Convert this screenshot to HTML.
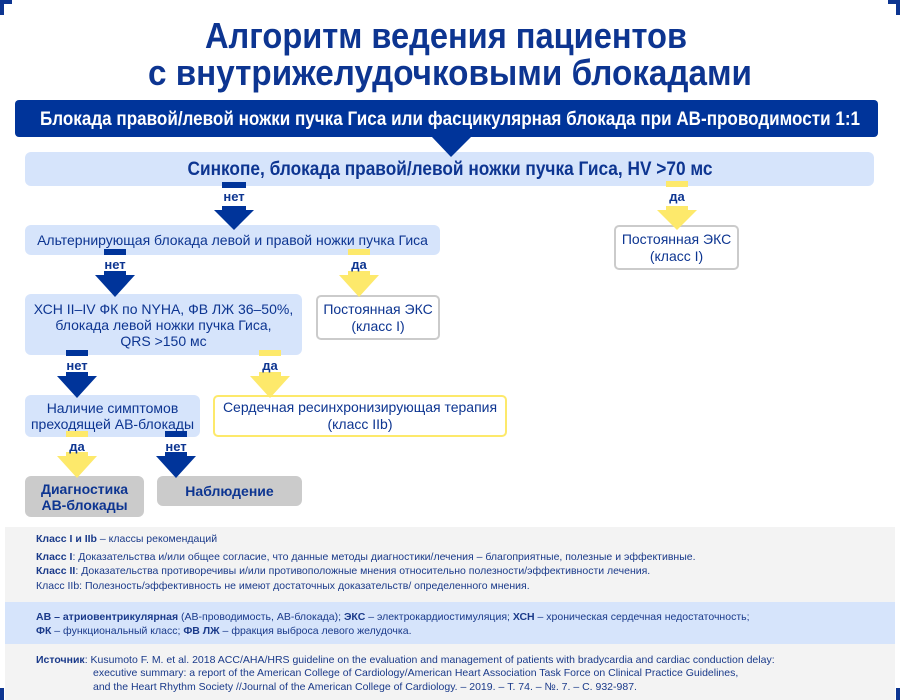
<!DOCTYPE html>
<html><head><meta charset="utf-8"><style>
body{margin:0;width:900px;height:700px;position:relative;background:#fff;overflow:hidden;font-family:"Liberation Sans",sans-serif;color:#0d3591}
.a{position:absolute;box-sizing:border-box;display:flex;align-items:center;justify-content:center;text-align:center}
.lb{background:#d6e4fb;border-radius:6px}
.lbl{position:absolute;font-size:13px;font-weight:bold;color:#0d3591;width:40px;text-align:center}
.leg{position:absolute;left:36px;font-size:10.5px;color:#1a3a8a;white-space:nowrap}
</style></head><body>
<svg width="900" height="700" style="position:absolute;left:0;top:0">
<path d="M0 15V0H12V4H4V15Z" fill="#0d3591"/>
<path d="M900 15V0H888V4H896V15Z" fill="#0d3591"/>
</svg>
<div class="a" style="left:15px;top:100px;width:863px;height:37px;background:#00349a;border-radius:4px"></div>
<div class="a lb" style="left:25px;top:152px;width:849px;height:34px"></div>
<div class="a lb" style="left:25px;top:225px;width:415px;height:30px;font-size:14px">Альтернирующая блокада левой и правой ножки пучка Гиса</div>
<div class="a" style="left:614px;top:225px;width:125px;height:45px;border:2px solid #cbcbcb;border-radius:5px;font-size:14px;line-height:17px">Постоянная ЭКС<br>(класс I)</div>
<div class="a lb" style="left:25px;top:294px;width:277px;height:61px;font-size:14px;line-height:16px">ХСН II–IV ФК по NYHA, ФВ ЛЖ 36–50%,<br>блокада левой ножки пучка Гиса,<br>QRS &gt;150 мс</div>
<div class="a" style="left:316px;top:295px;width:124px;height:45px;border:2px solid #cbcbcb;border-radius:5px;font-size:14px;line-height:17px">Постоянная ЭКС<br>(класс I)</div>
<div class="a lb" style="left:25px;top:395px;width:175px;height:42px;font-size:14px;line-height:16px">Наличие симптомов<br>преходящей АВ-блокады</div>
<div class="a" style="left:213px;top:395px;width:294px;height:42px;border:2px solid #fde96b;border-radius:5px;font-size:14px;line-height:17px">Сердечная ресинхронизирующая терапия<br>(класс IIb)</div>
<div class="a" style="left:25px;top:476px;width:119px;height:41px;background:#cbcbcb;border-radius:6px;font-size:14px;line-height:16px;font-weight:bold">Диагностика<br>АВ-блокады</div>
<div class="a" style="left:157px;top:476px;width:145px;height:30px;background:#cbcbcb;border-radius:6px;font-size:14px;font-weight:bold">Наблюдение</div>
<svg width="900" height="700" style="position:absolute;left:0;top:0" font-family="Liberation Sans, sans-serif" font-weight="bold">
<text x="446" y="48" font-size="36" fill="#0d3591" text-anchor="middle" textLength="482" lengthAdjust="spacingAndGlyphs">Алгоритм ведения пациентов</text>
<text x="450" y="85" font-size="36" fill="#0d3591" text-anchor="middle" textLength="604" lengthAdjust="spacingAndGlyphs">с внутрижелудочковыми блокадами</text>
<text x="450" y="125" font-size="19" fill="#fff" text-anchor="middle" textLength="820" lengthAdjust="spacingAndGlyphs">Блокада правой/левой ножки пучка Гиса или фасцикулярная блокада при АВ-проводимости 1:1</text>
<text x="450" y="175" font-size="19" fill="#0d3591" text-anchor="middle" textLength="525" lengthAdjust="spacingAndGlyphs">Синкопе, блокада правой/левой ножки пучка Гиса, HV &gt;70 мс</text>
<polygon points="432,137 471,137 451,157" fill="#00349a"/>
<g fill="#00349a">
<rect x="222" y="182" width="24" height="6"/><rect x="222" y="206" width="24" height="5"/><polygon points="214,210 254,210 234,230"/>
<rect x="104" y="249" width="22" height="6"/><rect x="104" y="271" width="22" height="5"/><polygon points="95,275 135,275 115,297"/>
<rect x="66" y="350" width="22" height="6"/><rect x="66" y="372" width="22" height="5"/><polygon points="57,376 97,376 77,398"/>
<rect x="165" y="431" width="22" height="6"/><rect x="165" y="452" width="22" height="5"/><polygon points="156,456 196,456 176,478"/>
</g>
<g fill="#fde96b">
<rect x="666" y="181" width="22" height="6"/><rect x="666" y="206" width="22" height="5"/><polygon points="657,210 697,210 677,230"/>
<rect x="348" y="249" width="22" height="6"/><rect x="348" y="271" width="22" height="5"/><polygon points="339,275 379,275 359,297"/>
<rect x="259" y="350" width="22" height="6"/><rect x="259" y="372" width="22" height="5"/><polygon points="250,376 290,376 270,398"/>
<rect x="66" y="431" width="22" height="6"/><rect x="66" y="452" width="22" height="5"/><polygon points="57,456 97,456 77,478"/>
</g>
</svg>
<div class="lbl" style="left:214px;top:189px">нет</div>
<div class="lbl" style="left:657px;top:189px">да</div>
<div class="lbl" style="left:95px;top:257px">нет</div>
<div class="lbl" style="left:339px;top:257px">да</div>
<div class="lbl" style="left:57px;top:358px">нет</div>
<div class="lbl" style="left:250px;top:358px">да</div>
<div class="lbl" style="left:57px;top:439px">да</div>
<div class="lbl" style="left:156px;top:439px">нет</div>
<div style="position:absolute;left:5px;top:527px;width:890px;height:173px;background:#f3f3f3"></div>
<div style="position:absolute;left:5px;top:602px;width:890px;height:42px;background:#d6e4fb"></div>
<svg width="900" height="700" style="position:absolute;left:0;top:0"><rect x="0" y="688" width="4" height="12" fill="#0d3591"/><rect x="896" y="688" width="4" height="12" fill="#0d3591"/></svg>
<div class="leg" style="top:533px"><b>Класс I и IIb</b> – классы рекомендаций</div>
<div class="leg" style="top:551px"><b>Класс I</b>: Доказательства и/или общее согласие, что данные методы диагностики/лечения – благоприятные, полезные и эффективные.</div>
<div class="leg" style="top:565px"><b>Класс II</b>: Доказательства противоречивы и/или противоположные мнения относительно полезности/эффективности лечения.</div>
<div class="leg" style="top:580px">Класс IIb: Полезность/эффективность не имеют достаточных доказательств/ определенного мнения.</div>
<div class="leg" style="top:611px"><b>АВ – атриовентрикулярная</b> (АВ-проводимость, АВ-блокада); <b>ЭКС</b> – электрокардиостимуляция; <b>ХСН</b> – хроническая сердечная недостаточность;</div>
<div class="leg" style="top:625px"><b>ФК</b> – функциональный класс; <b>ФВ ЛЖ</b> – фракция выброса левого желудочка.</div>
<div class="leg" style="top:654px;line-height:13.3px"><b>Источник</b>: Kusumoto F. M. et al. 2018 ACC/AHA/HRS guideline on the evaluation and management of patients with bradycardia and cardiac conduction delay:<br><span style="padding-left:57px">executive summary: a report of the American College of Cardiology/American Heart Association Task Force on Clinical Practice Guidelines,</span><br><span style="padding-left:57px">and the Heart Rhythm Society //Journal of the American College of Cardiology. – 2019. – Т. 74. – №. 7. – С. 932-987.</span></div>
</body></html>
